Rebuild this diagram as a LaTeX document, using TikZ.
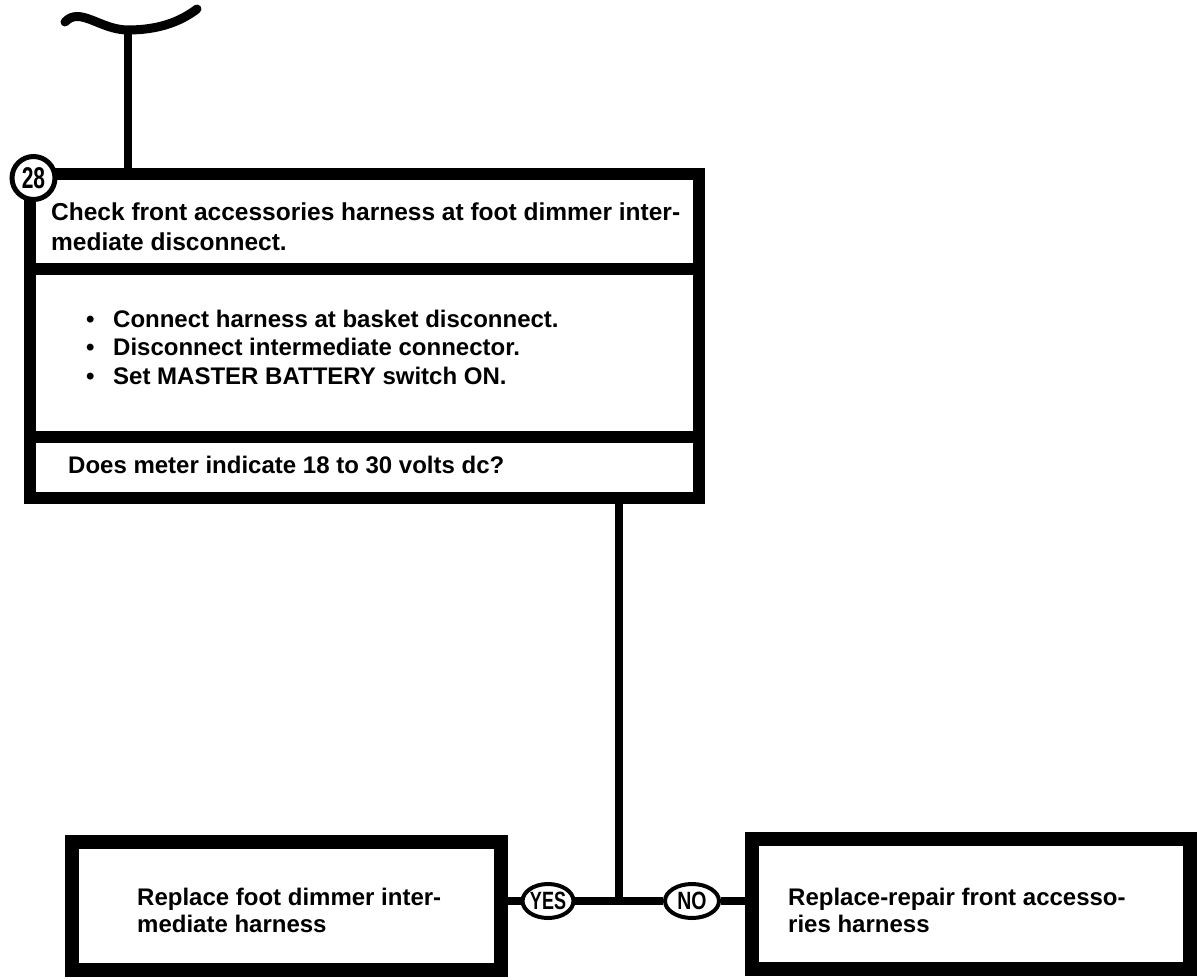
\documentclass[tikz,border=0pt]{standalone}
\usepackage{fontspec}
\setmainfont{Liberation Sans}
\usepackage{graphicx}
\usetikzlibrary{shapes.geometric}

\begin{document}
\begin{tikzpicture}[
  x=1pt, y=-1pt,
  section/.style = {draw, fill=white, line width=12pt, minimum width=669.5pt, inner sep=0pt},
  result/.style  = {draw, fill=white, line width=14pt, inner sep=0pt},
  txt/.style     = {font=\fontsize{24}{30}\selectfont\bfseries, align=left, inner sep=0pt},
  answer/.style  = {ellipse, draw, fill=white, line width=4pt, minimum width=48pt,
                    minimum height=34pt, inner sep=0pt, font=\fontsize{25}{25}\selectfont\bfseries},
  wire/.style    = {line width=8.5pt}
]
\useasboundingbox (0,0) rectangle (1198,979);

% ---- break mark and lead-in ----
\coordinate (lead) at (128,30);
\draw[line width=9pt, line cap=round]
  (65,22) .. controls (80,6) and (100,30) .. (lead)
          .. controls (158,30) and (180,22) .. (197,9);

% ---- STEP 28: check block ----
\node[section, minimum height=95pt]   (check)    at (364.25,221.5) {};
\node[section, minimum height=167.5pt] (steps)   at (364.25,352.75) {};
\node[section, minimum height=61pt]   (question) at (364.25,467) {};
\draw[wire] (lead) -- (lead |- check.north);

\node[txt, anchor=north west, font=\fontsize{24.5}{30}\selectfont\bfseries] (checktxt) at (51,202.5)
  {Check front accessories harness at foot dimmer inter-\\mediate disconnect.};
\node[txt, anchor=north west, font=\fontsize{24}{28.5}\selectfont\bfseries] (stepstxt) at (86,309.5)
  {\makebox[27pt][l]{•}Connect harness at basket disconnect.\\
   \makebox[27pt][l]{•}Disconnect intermediate connector.\\
   \makebox[27pt][l]{•}Set MASTER BATTERY switch ON.};
\node[txt, anchor=base west] (asktxt) at (68,473) {Does meter indicate 18 to 30 volts dc?};

\node[circle, draw, fill=white, line width=5pt, minimum size=43pt, inner sep=0pt,
      font=\fontsize{30}{30}\selectfont\bfseries] (num) at (33.5,178) {\scalebox{0.7}[1]{28}};

% ---- YES / NO branch ----
\coordinate (jn) at (619,901);
\draw[wire] (question.south -| jn) -- (jn);

\node[result, minimum width=429pt, minimum height=128pt] (yesbox) at (286.5,906) {};
\node[result, minimum width=438pt, minimum height=130pt] (nobox)  at (971,904) {};

\node[txt, anchor=north west, font=\fontsize{24}{27}\selectfont\bfseries] (yestxt) at (137,888)
  {Replace foot dimmer inter-\\mediate harness};
\node[txt, anchor=north west, font=\fontsize{24}{27}\selectfont\bfseries] (notxt) at (788,888)
  {Replace-repair front accesso-\\ries harness};

\node[answer] (yes) at (548,901) {\scalebox{0.72}[1]{YES}};
\node[answer, minimum width=54pt] (no) at (692,901) {\scalebox{0.78}[1]{NO}};

\draw[wire] (jn -| yesbox.east) -- (yes.west);
\draw[wire] (yes.east) -- (no.west);
\draw[wire] (no.east) -- (jn -| nobox.west);

\end{tikzpicture}
\end{document}
